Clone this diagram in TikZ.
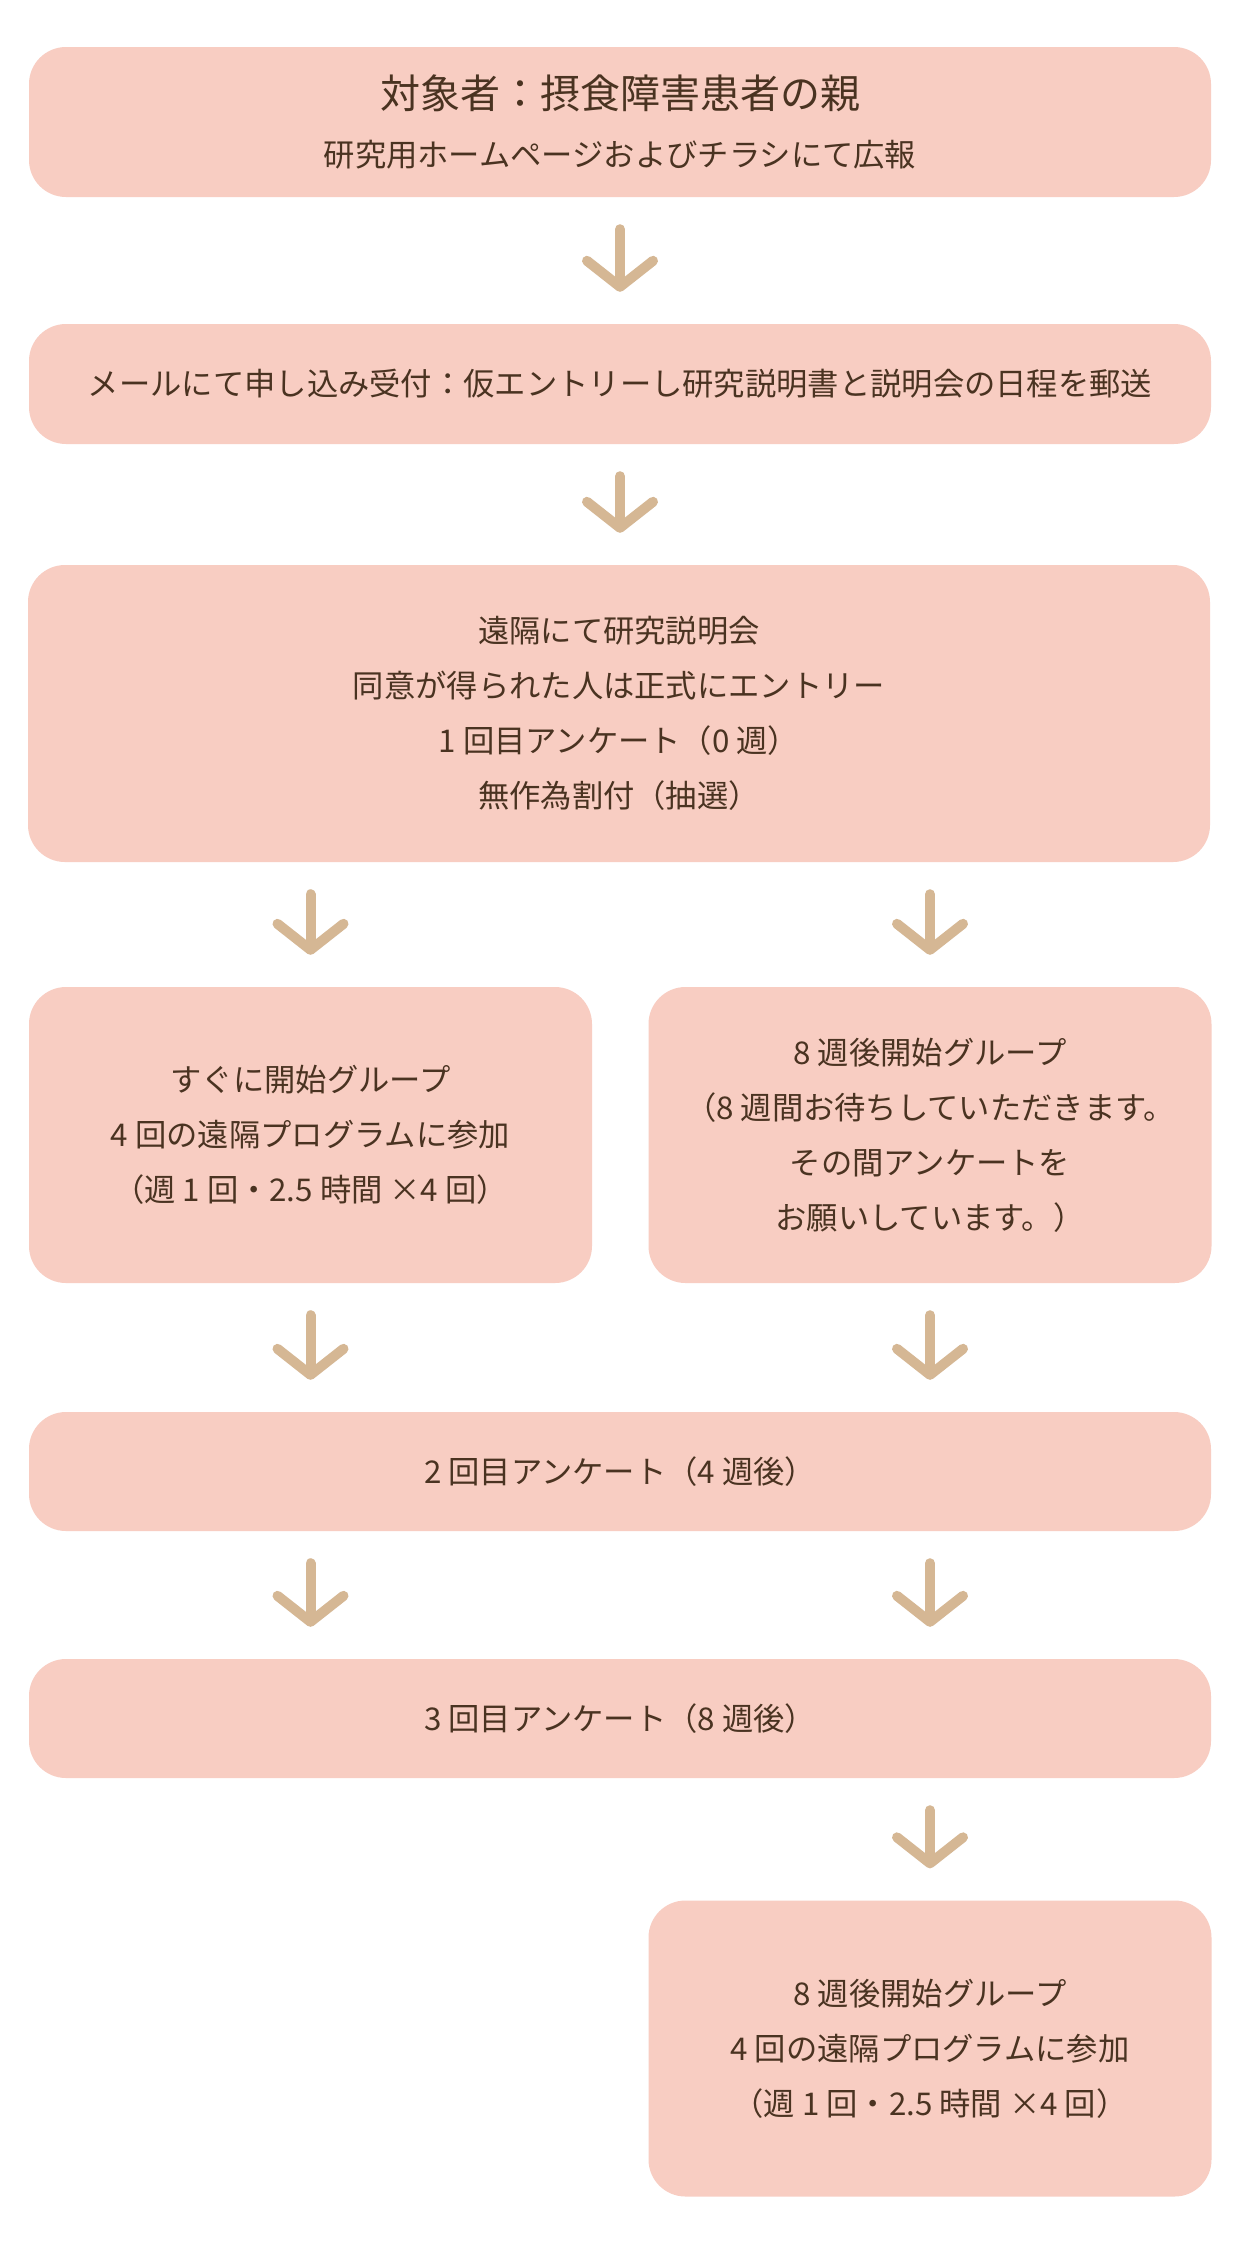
\documentclass[tikz,border=0pt]{standalone}
\usepackage{fontspec}
\setmainfont{Noto Sans CJK JP}
\usetikzlibrary{positioning,arrows.meta}
\definecolor{boxpink}{HTML}{F8CDC2}
\definecolor{textbrown}{HTML}{4A3321}
\definecolor{arrowtan}{HTML}{D5B794}
\tikzset{
  flowbox/.style={fill=boxpink,rounded corners=37pt,text=textbrown,align=center,inner sep=0pt,font=\fontsize{31.3}{55}\selectfont},
  widebox/.style={flowbox,minimum width=1182pt},
  halfbox/.style={flowbox,minimum width=563pt,minimum height=296pt},
  flowarrow/.style={draw=arrowtan,line width=10pt,line cap=round,shorten <=32pt,shorten >=32pt,
    -{Straight Barb[length=26pt,width=66pt,line width=10pt,round]}}
}
\begin{document}
\begin{tikzpicture}[x=1pt,y=-1pt]
\fill[white] (0,0) rectangle (1241,2247);
\useasboundingbox (0,0) rectangle (1241,2247);
%\draw[very thin,gray,step=100] (0,0) grid (1241,2247);
\node[widebox,minimum height=150pt] (target) at (620,122)
  {{\fontsize{40}{58}\selectfont 対象者：摂食障害患者の親}\\[3pt] 研究用ホームページおよびチラシにて広報};
\node[widebox,minimum height=120pt] (mail) at (620,384)
  {メールにて申し込み受付：仮エントリーし研究説明書と説明会の日程を郵送};
\node[widebox,minimum height=297pt] (briefing) at (619,713.5)
  {遠隔にて研究説明会\\同意が得られた人は正式にエントリー\\1 回目アンケート（0 週）\\無作為割付（抽選）};
\node[halfbox] (now) at (310.5,1135)
  {すぐに開始グループ\\4 回の遠隔プログラムに参加\\（週 1 回・2.5 時間 ×4 回）};
\node[halfbox] (wait) at (930,1135)
  {8 週後開始グループ\\（8 週間お待ちしていただきます。\\その間アンケートを\\お願いしています。）};
\node[widebox,minimum height=119pt] (survey2) at (620,1471.5) {2 回目アンケート（4 週後）};
\node[widebox,minimum height=119pt] (survey3) at (620,1718.5) {3 回目アンケート（8 週後）};
\node[halfbox] (later) at (930,2048.5)
  {8 週後開始グループ\\4 回の遠隔プログラムに参加\\（週 1 回・2.5 時間 ×4 回）};
\draw[flowarrow] (target.south) -- (mail.north);
\draw[flowarrow] (mail.south) -- (briefing.north -| mail);
\draw[flowarrow] (briefing.south -| now) -- (now.north);
\draw[flowarrow] (briefing.south -| wait) -- (wait.north);
\draw[flowarrow] (now.south) -- (survey2.north -| now);
\draw[flowarrow] (wait.south) -- (survey2.north -| wait);
\draw[flowarrow] (survey2.south -| now) -- (survey3.north -| now);
\draw[flowarrow] (survey2.south -| wait) -- (survey3.north -| wait);
\draw[flowarrow] (survey3.south -| later) -- (later.north);
\end{tikzpicture}
\end{document}
